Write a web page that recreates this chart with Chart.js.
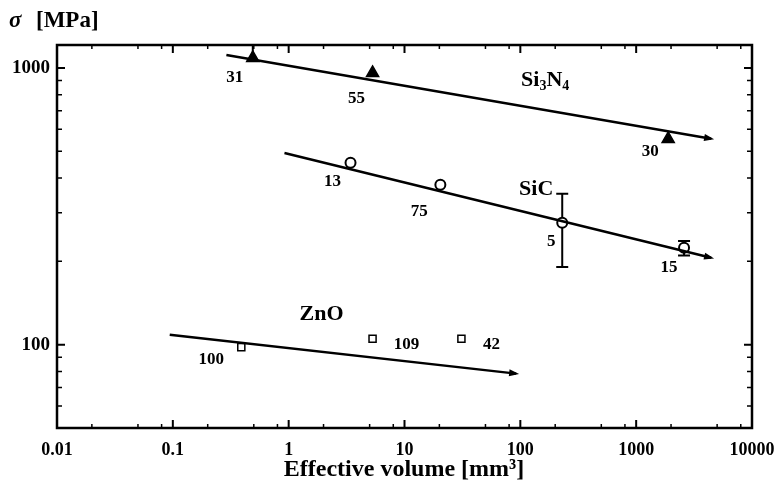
<!DOCTYPE html>
<html><head><meta charset="utf-8">
<script src="https://cdn.jsdelivr.net/npm/chart.js@4/dist/chart.umd.min.js"></script>
<style>html,body{margin:0;padding:0;background:#fff}#wrap{width:774px;height:492px}</style>
</head><body><div id="wrap"><canvas id="c" width="774" height="492"></canvas></div>
<script>
// ---- data ----
const xTickVals = [0.01, 0.1, 1, 10, 100, 1000, 10000];
const xTickLabels = ['0.01', '0.1', '1', '10', '100', '1000', '10000'];
const yTickVals = [100, 1000];
const yTickLabels = ['100', '1000'];

const si3n4Vol = [0.49, 5.3, 1890];
const si3n4Str = [1087, 959, 554];
const si3n4Lo = [1060, null, null];
const si3n4Hi = [1220, null, null];
const si3n4N = ['31', '55', '30'];

const sicVol = [3.42, 20.4, 230, 2590];
const sicStr = [454, 378, 276, 224];
const sicLo = [null, null, 191, 210];
const sicHi = [null, null, 351, 237];
const sicN = ['13', '75', '5', '15'];

const znoVol = [0.39, 5.3, 31];
const znoStr = [98, 105, 105];
const znoN = ['100', '109', '42'];

const si3n4FitVol = [0.29, 4440];
const si3n4FitStr = [1114, 555];
const sicFitVol = [0.92, 4440];
const sicFitStr = [493, 206];
const znoFitVol = [0.094, 92];
const znoFitStr = [108.7, 78.6];

// ---- helpers ----
const pts = (xs, ys) => xs.map((x, i) => ({x: x, y: ys[i]}));
const SERIF = '"Liberation Serif", "Times New Roman", serif';

// label offsets (pixels) relative to each point
const offSi3n4 = [[-18, 20], [-16, 26], [-18, 13]];
const offSic = [[-18, 19], [-21, 27], [-11, 19], [-15, 20]];
const offZno = [[-30, 12], [34, 6], [30, 6]];

const annot = [
  {x: 164, y: 913, parts: [['Si', 0], ['3', 1], ['N', 0], ['4', 1]]},
  {x: 137, y: 369, parts: [['SiC', 0]]},
  {x: 1.92, y: 130.5, parts: [['ZnO', 0]]}
];

const decor = {
  id: 'decor',
  beforeDatasetsDraw(chart) {
    const ctx = chart.ctx, xs = chart.scales.x, ys = chart.scales.y;
    ctx.save();
    ctx.strokeStyle = '#000';
    ctx.lineWidth = 2;
    const ca = chart.chartArea;
    ctx.beginPath(); ctx.rect(ca.left, ca.top, ca.right - ca.left, ca.bottom - ca.top); ctx.clip();
    const eb = (vols, lo, hi) => {
      vols.forEach((v, i) => {
        if (lo[i] == null) return;
        const px = xs.getPixelForValue(v);
        const a = ys.getPixelForValue(lo[i]), b = ys.getPixelForValue(hi[i]);
        ctx.beginPath();
        ctx.moveTo(px, a); ctx.lineTo(px, b);
        ctx.moveTo(px - 6, a); ctx.lineTo(px + 6, a);
        ctx.moveTo(px - 6, b); ctx.lineTo(px + 6, b);
        ctx.stroke();
      });
    };
    eb(si3n4Vol, si3n4Lo, si3n4Hi);
    eb(sicVol, sicLo, sicHi);
    ctx.restore();
  },
  afterDatasetsDraw(chart) {
    const ctx = chart.ctx, xs = chart.scales.x, ys = chart.scales.y;
    const ca = chart.chartArea;
    ctx.save();
    // arrowheads on fitted lines
    [[si3n4FitVol, si3n4FitStr], [sicFitVol, sicFitStr], [znoFitVol, znoFitStr]].forEach(([vx, vy]) => {
      const x0 = xs.getPixelForValue(vx[0]), y0 = ys.getPixelForValue(vy[0]);
      const x1 = xs.getPixelForValue(vx[1]), y1 = ys.getPixelForValue(vy[1]);
      const ang = Math.atan2(y1 - y0, x1 - x0);
      ctx.save();
      ctx.translate(x1, y1); ctx.rotate(ang);
      ctx.fillStyle = '#000';
      ctx.beginPath(); ctx.moveTo(3, 0); ctx.lineTo(-7, -3.5); ctx.lineTo(-7, 3.5); ctx.closePath(); ctx.fill();
      ctx.restore();
    });
    // point number labels
    ctx.fillStyle = '#000';
    ctx.font = 'bold 17px ' + SERIF;
    ctx.textAlign = 'center'; ctx.textBaseline = 'middle';
    const lab = (vols, strs, names, offs) => vols.forEach((v, i) => {
      ctx.fillText(names[i], xs.getPixelForValue(v) + offs[i][0], ys.getPixelForValue(strs[i]) + offs[i][1]);
    });
    lab(si3n4Vol, si3n4Str, si3n4N, offSi3n4);
    lab(sicVol, sicStr, sicN, offSic);
    lab(znoVol, znoStr, znoN, offZno);
    // material labels
    annot.forEach(a => {
      const big = 'bold 22px ' + SERIF, small = 'bold 14px ' + SERIF;
      let w = 0;
      a.parts.forEach(p => { ctx.font = p[1] ? small : big; w += ctx.measureText(p[0]).width; });
      let cx = xs.getPixelForValue(a.x) - w / 2;
      const cy = ys.getPixelForValue(a.y) + 7;
      ctx.textAlign = 'left'; ctx.textBaseline = 'alphabetic';
      a.parts.forEach(p => {
        ctx.font = p[1] ? small : big;
        ctx.fillText(p[0], cx, cy + (p[1] ? 4 : 0));
        cx += ctx.measureText(p[0]).width;
      });
    });
    // frame
    ctx.strokeStyle = '#000'; ctx.lineWidth = 2.5;
    ctx.strokeRect(ca.left, ca.top, ca.right - ca.left, ca.bottom - ca.top);
    // inward ticks
    const tick = (len, w, isX, v) => {
      ctx.lineWidth = w; ctx.beginPath();
      if (isX) {
        const p = xs.getPixelForValue(v);
        ctx.moveTo(p, ca.bottom); ctx.lineTo(p, ca.bottom - len);
        ctx.moveTo(p, ca.top); ctx.lineTo(p, ca.top + len);
      } else {
        const p = ys.getPixelForValue(v);
        ctx.moveTo(ca.left, p); ctx.lineTo(ca.left + len, p);
        ctx.moveTo(ca.right, p); ctx.lineTo(ca.right - len, p);
      }
      ctx.stroke();
    };
    xTickVals.forEach(v => tick(8, 2, true, v));
    xTickVals.slice(0, -1).forEach(v => [2, 5, 8].forEach(m => tick(4, 1.5, true, v * m)));
    [60, 70, 80, 90, 200, 300, 400, 500, 600, 700, 800, 900].forEach(v => tick(5, 1.5, false, v));
    yTickVals.forEach(v => tick(8, 2, false, v));
    // titles
    ctx.fillStyle = '#000';
    ctx.textBaseline = 'alphabetic'; ctx.textAlign = 'left';
    ctx.font = 'italic bold 23px ' + SERIF;
    ctx.fillText('σ', 9, 27);
    ctx.font = 'bold 23px ' + SERIF;
    ctx.fillText('[MPa]', 36, 27);
    ctx.textAlign = 'center';
    ctx.font = 'bold 24px ' + SERIF;
    ctx.fillText('Effective volume [mm³]', 404, 476);
    ctx.restore();
  }
};

new Chart(document.getElementById('c'), {
  type: 'scatter',
  data: {
    datasets: [
      {data: pts(si3n4FitVol, si3n4FitStr), showLine: true, borderColor: '#000', borderWidth: 2.5, pointRadius: 0},
      {data: pts(sicFitVol, sicFitStr), showLine: true, borderColor: '#000', borderWidth: 2.5, pointRadius: 0},
      {data: pts(znoFitVol, znoFitStr), showLine: true, borderColor: '#000', borderWidth: 2.5, pointRadius: 0},
      {data: pts(si3n4Vol, si3n4Str), pointStyle: 'triangle', pointRadius: 7, backgroundColor: '#000', borderColor: '#000', borderWidth: 1.5},
      {data: pts(sicVol, sicStr), pointStyle: 'circle', pointRadius: 5, backgroundColor: '#fff', borderColor: '#000', borderWidth: 2},
      {data: pts(znoVol, znoStr), pointStyle: 'rect', pointRadius: 5, backgroundColor: '#fff', borderColor: '#000', borderWidth: 1.5}
    ]
  },
  options: {
    responsive: false,
    animation: false,
    devicePixelRatio: 1,
    layout: {padding: {left: 0, top: 45, right: 22, bottom: 0}},
    plugins: {legend: {display: false}, tooltip: {enabled: false}},
    scales: {
      x: {
        type: 'logarithmic', min: 0.01, max: 10000,
        grid: {display: false, drawTicks: false}, border: {display: false},
        afterBuildTicks: s => { s.ticks = xTickVals.map(v => ({value: v})); },
        afterFit: s => { s.height = 64; s.paddingLeft = 0; s.paddingRight = 0; },
        ticks: {
          autoSkip: false, maxRotation: 0, padding: 12, color: '#000',
          font: {family: SERIF, size: 18, weight: 'bold'},
          callback: (v) => { const i = xTickVals.indexOf(v); return i >= 0 ? xTickLabels[i] : ''; }
        }
      },
      y: {
        type: 'logarithmic', min: 50, max: 1210,
        grid: {display: false, drawTicks: false}, border: {display: false},
        afterBuildTicks: s => { s.ticks = yTickVals.map(v => ({value: v})); },
        afterFit: s => { s.width = 57; s.paddingTop = 0; s.paddingBottom = 0; },
        ticks: {
          autoSkip: false, padding: 7, color: '#000',
          font: {family: SERIF, size: 19, weight: 'bold'},
          callback: (v) => { const i = yTickVals.indexOf(v); return i >= 0 ? yTickLabels[i] : ''; }
        }
      }
    }
  },
  plugins: [decor]
});
</script></body></html>
